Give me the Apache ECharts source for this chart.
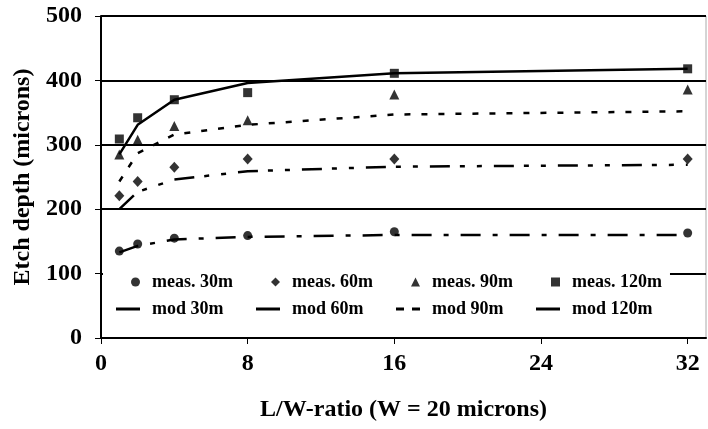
<!DOCTYPE html>
<html>
<head>
<meta charset="utf-8">
<script src="https://cdn.jsdelivr.net/npm/echarts@6/dist/echarts.min.js"></script>
<style>
  html, body { margin: 0; padding: 0; background: #fff; }
  #chart { width: 708px; height: 429px; }
</style>
</head>
<body>
<div id="chart"></div>
<script>
// L/W ratio values where the etch depth was measured / modelled
var ratios = [1, 2, 4, 8, 16, 32];
var xTicks = [0, 8, 16, 24, 32];

// measured etch depth (microns)
var meas30 = [135, 146, 155, 159, 165, 163];
var meas60 = [221, 243, 265, 278, 278, 278];
var meas90 = [285, 308, 329, 338, 378, 386];
var meas120 = [309, 342, 370, 381, 411, 418];

// model etch depth (microns)
var mod30 = [133, 143, 153, 157, 160, 160];
var mod60 = [200, 227, 246, 259, 266, 269];
var mod90 = [243, 287, 316, 331, 347, 352];
var mod120 = [285, 331, 370, 396, 411, 418];

var measNames = ['meas. 30m', 'meas. 60m', 'meas. 90m', 'meas. 120m'];
var modNames = ['mod 30m', 'mod 60m', 'mod 90m', 'mod 120m'];

function pairs(vals) {
    return ratios.map(function (r, i) { return [r, vals[i]]; });
}

var font = '"Liberation Serif", "Times New Roman", serif';

function measSeries(name, vals, symbol, size) {
    return {
        name: name,
        type: 'scatter',
        data: pairs(vals),
        symbol: symbol,
        symbolSize: size,
        itemStyle: { color: '#000' },
        z: 5
    };
}

function modSeries(name, vals, dash) {
    return {
        name: name,
        type: 'line',
        data: pairs(vals),
        showSymbol: false,
        symbol: 'none',
        lineStyle: { color: '#000', width: 2.5, type: dash },
        itemStyle: { color: '#000' },
        z: 3
    };
}

// legend text: a small empty rich span keeps the gap between icon and label
var legendText = {
    fontFamily: font,
    fontWeight: 'bold',
    fontSize: 18,
    color: '#000',
    width: 95,
    lineHeight: 20,
    rich: { g: { width: 7 } }
};
function legendLabel(name) { return '{g|}' + name; }

var solidIcon = 'path://M0,0H24V3H0Z';
var dashIcon = 'path://M0,0H8V3H0Z M16,0H24V3H16Z';

var myChart = echarts.init(document.getElementById('chart'));
myChart.setOption({
    animation: false,
    backgroundColor: '#fff',
    grid: {
        left: 101, right: 2, top: 16, bottom: 91,
        show: true, borderColor: '#aaa', borderWidth: 1
    },
    legend: [{
        data: [
            { name: measNames[0], icon: 'circle' },
            { name: measNames[1], icon: 'diamond' },
            { name: measNames[2], icon: 'triangle' },
            { name: measNames[3], icon: 'rect' }
        ],
        left: 103, top: 266,
        padding: [6, 8, 0, 28],
        backgroundColor: '#fff',
        itemWidth: 9, itemHeight: 9, itemGap: 31,
        itemStyle: { color: '#000' },
        formatter: legendLabel,
        textStyle: legendText
    }, {
        data: [
            { name: modNames[0], icon: solidIcon },
            { name: modNames[1], icon: solidIcon },
            { name: modNames[2], icon: dashIcon },
            { name: modNames[3], icon: solidIcon }
        ],
        left: 103, top: 292,
        padding: [7, 8, 6, 13],
        backgroundColor: '#fff',
        itemWidth: 24, itemHeight: 3, itemGap: 16,
        symbolKeepAspect: false,
        itemStyle: { color: '#000' },
        lineStyle: { width: 0 },
        formatter: legendLabel,
        textStyle: legendText
    }],
    xAxis: {
        type: 'value',
        min: 0, max: 33,
        name: 'L/W-ratio (W = 20 microns)',
        nameLocation: 'middle',
        nameGap: 60,
        nameTextStyle: { fontFamily: font, fontWeight: 'bold', fontSize: 24, color: '#000' },
        axisLine: { lineStyle: { color: '#000', width: 2 } },
        axisTick: { customValues: xTicks, length: 6, lineStyle: { color: '#000', width: 1 } },
        axisLabel: {
            customValues: xTicks, margin: 14,
            fontFamily: font, fontWeight: 'bold', fontSize: 24, color: '#000'
        },
        splitLine: { show: false }
    },
    yAxis: {
        type: 'value',
        min: 0, max: 500, interval: 100,
        name: 'Etch depth (microns)',
        nameLocation: 'middle',
        nameGap: 66,
        nameTextStyle: { fontFamily: font, fontWeight: 'bold', fontSize: 24, color: '#000' },
        axisLine: { show: true, lineStyle: { color: '#000', width: 2 } },
        axisTick: { show: true, length: 6, lineStyle: { color: '#000', width: 1 } },
        axisLabel: { margin: 19, fontFamily: font, fontWeight: 'bold', fontSize: 24, color: '#000' },
        splitLine: { show: true, lineStyle: { color: '#000', width: 2 } }
    },
    series: [
        modSeries(modNames[0], mod30, [20, 12, 5, 12]),
        modSeries(modNames[1], mod60, [20, 10, 5, 12, 5, 12]),
        modSeries(modNames[2], mod90, [6, 11]),
        modSeries(modNames[3], mod120, 'solid'),
        measSeries(measNames[0], meas30, 'circle', 9),
        measSeries(measNames[1], meas60, 'diamond', [10, 11]),
        measSeries(measNames[2], meas90, 'triangle', 10),
        measSeries(measNames[3], meas120, 'rect', 9)
    ]
});
</script>
</body>
</html>
